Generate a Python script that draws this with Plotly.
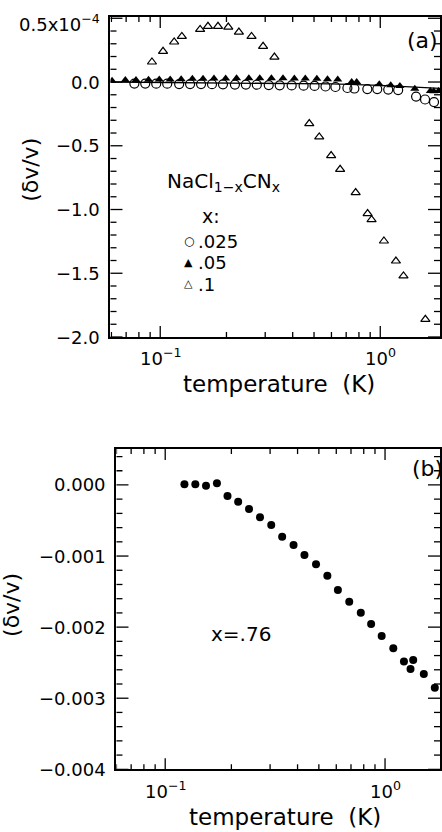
import math
import plotly.graph_objects as go

# ---------------- data: panel (a) ----------------
t_x025 = [0.0763, 0.0855, 0.0959, 0.1076, 0.1219, 0.1367, 0.1533, 0.1719, 0.1928, 0.2185,
          0.2450, 0.2748, 0.3113, 0.3491, 0.3957, 0.4483, 0.5028, 0.5638, 0.6254, 0.7090,
          0.7627, 0.8733, 0.9692, 1.087, 1.206, 1.455, 1.598, 1.755]
dv_x025 = [-0.012, -0.012, -0.013, -0.013, -0.016, -0.016, -0.016, -0.017, -0.018, -0.020,
           -0.020, -0.021, -0.024, -0.026, -0.027, -0.029, -0.031, -0.035, -0.039, -0.047,
           -0.051, -0.055, -0.055, -0.059, -0.063, -0.114, -0.137, -0.157]

t_x05 = [0.0604, 0.0694, 0.0776, 0.0885, 0.0990, 0.1110, 0.1245, 0.1400, 0.1565, 0.1755,
         0.1983, 0.2223, 0.2528, 0.2834, 0.3201, 0.3614, 0.4070, 0.4563, 0.5150, 0.5757,
         0.6408, 0.7416, 0.7813, 0.9897, 1.1156, 1.2279, 1.4355, 1.689, 1.750, 1.840]
dv_x05 = [0.010, 0.015, 0.015, 0.018, 0.020, 0.020, 0.022, 0.025, 0.025, 0.028,
          0.028, 0.030, 0.030, 0.030, 0.030, 0.030, 0.028, 0.027, 0.025, 0.022,
          0.020, 0.000, 0.000, -0.018, -0.026, -0.031, -0.053, -0.070, -0.072, -0.070]

t_x1 = [0.0917, 0.103, 0.1157, 0.1254, 0.1518, 0.1648, 0.183, 0.2038, 0.2278, 0.260,
        0.2934, 0.3304, 0.4758, 0.528, 0.598, 0.657, 0.773, 0.876, 0.913, 1.039,
        1.178, 1.275, 1.603]
dv_x1 = [0.157, 0.241, 0.314, 0.358, 0.413, 0.437, 0.437, 0.431, 0.392, 0.358,
         0.280, 0.196, -0.326, -0.431, -0.577, -0.685, -0.867, -1.032, -1.080, -1.247,
         -1.404, -1.521, -1.861]

line_t = [0.06, 0.3, 0.6, 1.0, 1.5, 1.9]
line_dv = [0.0, -0.007, -0.015, -0.026, -0.039, -0.050]

# ---------------- data: panel (b) ----------------
t_x76 = [0.1223, 0.1371, 0.1533, 0.1719, 0.1920, 0.2147, 0.2406, 0.2699, 0.3036, 0.3404,
         0.3835, 0.4300, 0.4853, 0.5465, 0.6103, 0.6873, 0.7757, 0.8643, 0.9652, 1.0904,
         1.219, 1.343, 1.306, 1.501, 1.684]
dv_x76 = [0.00001, 0.00001, -0.00001, 0.000024, -0.000155, -0.000235, -0.000338, -0.000455,
          -0.000563, -0.000728, -0.000844, -0.000985, -0.001115, -0.001276, -0.001477,
          -0.001642, -0.001797, -0.001955, -0.002124, -0.002297, -0.002485, -0.002461,
          -0.002588, -0.002658, -0.002851]

# ---------------- ticks ----------------
x_major = [0.1, 1]
x_text = ["10<sup>\u22121</sup>", "10<sup>0</sup>"]
x_minor = [0.06, 0.07, 0.08, 0.09, 0.2, 0.3, 0.4, 0.5, 0.6, 0.7, 0.8, 0.9]
ya_major = [0.5, 0.0, -0.5, -1.0, -1.5, -2.0]
ya_text = ["0.5x10<sup>\u22124</sup>", "0.0", "\u22120.5", "\u22121.0", "\u22121.5", "\u22122.0"]
ya_minor = [0.4, 0.3, 0.2, 0.1, -0.1, -0.2, -0.3, -0.4, -0.6, -0.7, -0.8, -0.9,
            -1.1, -1.2, -1.3, -1.4, -1.6, -1.7, -1.8, -1.9]
yb_major = [0.0, -0.001, -0.002, -0.003, -0.004]
yb_text = ["0.000", "\u22120.001", "\u22120.002", "\u22120.003", "\u22120.004"]
yb_minor = [0.0004, 0.0002, -0.0002, -0.0004, -0.0006, -0.0008, -0.0012, -0.0014,
            -0.0016, -0.0018, -0.0022, -0.0024, -0.0026, -0.0028, -0.0032, -0.0034,
            -0.0036, -0.0038]

W, H = 442, 832
FONT = "DejaVu Sans"


def px(x):
    return x / W


def py(y):
    return 1 - y / H


fig = go.Figure()
fig.add_trace(go.Scatter(x=line_t, y=line_dv, mode="lines",
                         line=dict(color="black", width=1.3), xaxis="x", yaxis="y",
                         showlegend=False))
fig.add_trace(go.Scatter(x=t_x025, y=dv_x025, mode="markers",
                         marker=dict(symbol="circle-open", size=9, color="black",
                                     line=dict(width=1.2)),
                         xaxis="x", yaxis="y", showlegend=False))
fig.add_trace(go.Scatter(x=t_x05, y=dv_x05, mode="markers",
                         marker=dict(symbol="triangle-up", size=8, color="black"),
                         xaxis="x", yaxis="y", showlegend=False))
fig.add_trace(go.Scatter(x=t_x1, y=dv_x1, mode="markers",
                         marker=dict(symbol="triangle-up-open", size=8, color="black",
                                     line=dict(width=1.2)),
                         xaxis="x", yaxis="y", showlegend=False))
fig.add_trace(go.Scatter(x=t_x76, y=dv_x76, mode="markers",
                         marker=dict(symbol="circle", size=8, color="black"),
                         xaxis="x2", yaxis="y2", showlegend=False))

ax_common = dict(showline=True, linecolor="black", linewidth=1.5, mirror=True,
                 ticks="", showticklabels=False, showgrid=False, zeroline=False)

fig.update_layout(
    width=W, height=H, margin=dict(l=0, r=0, t=0, b=0),
    paper_bgcolor="white", plot_bgcolor="white", showlegend=False,
    font=dict(family=FONT, color="black"),
    xaxis=dict(ax_common, type="log", domain=[px(111), 1.0], range=[-1.226, 0.2715],
               anchor="y"),
    yaxis=dict(ax_common, domain=[py(337), py(17)], range=[-2.0, 0.51], anchor="x"),
    xaxis2=dict(ax_common, type="log", domain=[px(117), 1.0], range=[-1.2217, 0.250],
                anchor="y2"),
    yaxis2=dict(ax_common, domain=[py(769.3), py(449)], range=[-0.004, 0.000506],
                anchor="x2"),
)

TICK = dict(color="black", width=1.3)


def xticks(xr, yr, vals, length):
    for v in vals:
        for anchor, sign in ((0, 1), (1, -1)):
            fig.add_shape(type="line", xref=xr, yref=yr + " domain", x0=v, x1=v,
                          ysizemode="pixel", yanchor=anchor, y0=0, y1=sign * length,
                          line=TICK, layer="above")


def yticks(xr, yr, vals, length):
    for v in vals:
        for anchor, sign in ((0, 1), (1, -1)):
            fig.add_shape(type="line", xref=xr + " domain", yref=yr, y0=v, y1=v,
                          xsizemode="pixel", xanchor=anchor, x0=0, x1=sign * length,
                          line=TICK, layer="above")


xticks("x", "y", x_major, 11)
xticks("x", "y", x_minor, 5)
yticks("x", "y", ya_major, 12)
yticks("x", "y", ya_minor, 6)
xticks("x2", "y2", x_major, 11)
xticks("x2", "y2", x_minor, 5)
yticks("x2", "y2", yb_major, 12)
yticks("x2", "y2", yb_minor, 6)


def note(text, x, y, size=20, xanchor="left", yanchor="middle", angle=0,
         xref="paper", yref="paper", yshift=0):
    fig.add_annotation(text=text, x=x, y=y, xref=xref, yref=yref,
                       xanchor=xanchor, yanchor=yanchor, showarrow=False, borderpad=0,
                       textangle=angle, yshift=yshift,
                       font=dict(family=FONT, size=size, color="black"))


# tick labels (placed through the axes' own scales; log axes take log10 positions)
for v, t in zip(ya_major, ya_text):
    note(t, px(101), v, size=18, xanchor="right", yref="y",
         yshift=-5 if "sup" in t else 0)
for v, t in zip(yb_major, yb_text):
    note(t, px(107), v, size=18, xanchor="right", yref="y2")
for v, t in zip(x_major, x_text):
    note(t, math.log10(v), py(357), size=18, xanchor="center", xref="x")
    note(t, math.log10(v), py(790), size=18, xanchor="center", xref="x2")

# panel labels
note("(a)", px(408), py(40), size=22)
note("(b)", px(413), py(468), size=22)
# axis titles
note("temperature  (K)", px(280), py(384), size=23, xanchor="center")
note("temperature  (K)", px(286), py(817), size=23, xanchor="center")
note("(\u03b4v/v)", px(30), py(170), size=22, xanchor="center", angle=-90)
note("(\u03b4v/v)", px(11), py(605), size=22, xanchor="center", angle=-90)
# key in panel (a)
note("NaCl<sub>1\u2212x</sub>CN<sub>x</sub>", px(167), py(182), size=20)
note("x:", px(202), py(216), size=19)
note("\u25cb", px(184), py(241), size=12)
note(".025", px(198), py(241), size=18)
note("\u25b2", px(184), py(262), size=11)
note(".05", px(198), py(262.5), size=18)
note("\u25b3", px(184), py(283), size=11)
note(".1", px(198), py(284), size=18)
# panel (b) label
note("x=.76", px(211), py(634), size=20)

fig.write_html("out.html")
